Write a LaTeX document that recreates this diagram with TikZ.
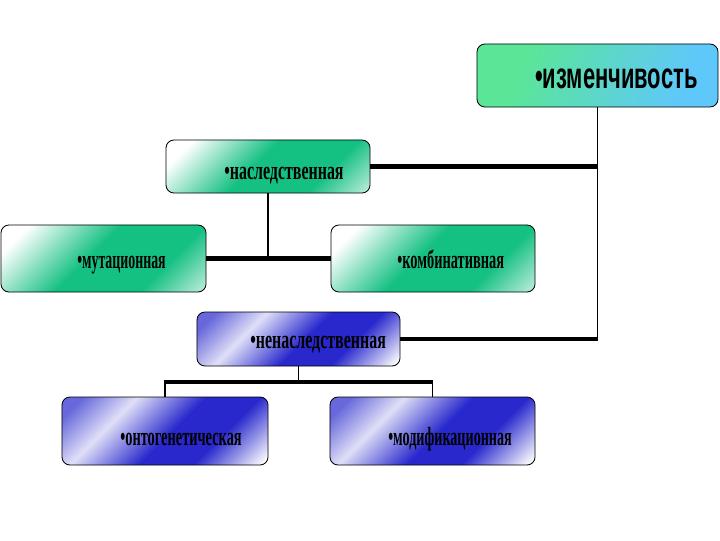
\documentclass[tikz,border=0pt]{standalone}
\usepackage{fontspec}
\setmainfont{Liberation Serif}
\newfontfamily\headfont{Liberation Sans}
\usepackage{graphicx}
\usetikzlibrary{calc}

\definecolor{grn}{RGB}{20,192,130}
\definecolor{blu}{RGB}{40,40,205}
\definecolor{tgrn}{RGB}{90,230,150}
\definecolor{tblu}{RGB}{95,200,250}

\pgfdeclarehorizontalshading{greenshade}{100bp}{color(0bp)=(white); color(22bp)=(white); color(46bp)=(grn); color(68bp)=(grn); color(88bp)=(grn!15!white); color(100bp)=(white)}
\pgfdeclarehorizontalshading{blueshade}{100bp}{color(0bp)=(blu!70!white); color(20bp)=(blu!70!white); color(34bp)=(blu!15!white); color(52bp)=(blu); color(66bp)=(blu); color(84bp)=(white); color(100bp)=(white)}
\pgfdeclarehorizontalshading{topshade}{100bp}{color(0bp)=(tgrn); color(30bp)=(tgrn); color(72bp)=(tblu); color(100bp)=(tblu)}

\newcommand{\headlbl}[1]{\scalebox{0.6}[1]{\fontsize{26}{28}\selectfont\headfont\bfseries\textbullet#1}}
\newcommand{\lbl}[2][0.61]{\scalebox{#1}[1]{\fontsize{18.6}{20}\selectfont\bfseries\textbullet#2}}

\begin{document}
\begin{tikzpicture}[x=0.025cm,y=-0.025cm]
\tikzstyle{box} = [draw=black,line width=0.6pt,rounded corners=0.2cm,inner sep=0pt]
\tikzstyle{grbox} = [box,shading=greenshade,shading angle=-45]
\tikzstyle{blbox} = [box,shading=blueshade,shading angle=-45]
\tikzstyle{txt} = [anchor=base west,inner sep=0pt]
\tikzstyle{thin} = [line width=1.3pt]
\tikzstyle{thk} = [line width=3pt]
\useasboundingbox (0,0) rectangle (720,540);

%%%%%% Izmenchivost
\node[box,shading=topshade,shading angle=-20,minimum width=6.025cm,minimum height=1.575cm] (izm) at (597.5,75.5) {};
\node[txt] (izm-t) at (535,88) {\headlbl{изменчивость}};

%%%%%% Nasledstvennaya
\node[grbox,minimum width=5.1cm,minimum height=1.325cm] (nasl) at (268,166.5) {};
\node[txt] (nasl-t) at (224,179) {\lbl{наследственная}};
%
\node[grbox,minimum width=5.125cm,minimum height=1.675cm] (mut) at (103.5,258.5) {};
\node[txt] (mut-t) at (77,268) {\lbl[0.53]{мутационная}};
%
\node[grbox,minimum width=5.1cm,minimum height=1.675cm] (komb) at (433,258.5) {};
\node[txt] (komb-t) at (397,268) {\lbl[0.55]{комбинативная}};

%%%%%% Nenasledstvennaya
\node[blbox,minimum width=5.075cm,minimum height=1.35cm] (nenasl) at (298.5,339) {};
\node[txt] (nenasl-t) at (250,348) {\lbl{ненаследственная}};
%
\node[blbox,minimum width=5.15cm,minimum height=1.7cm] (onto) at (165,431) {};
\node[txt] (onto-t) at (120,445) {\lbl[0.55]{онтогенетическая}};
%
\node[blbox,minimum width=5.125cm,minimum height=1.7cm] (modif) at (432.5,431) {};
\node[txt] (modif-t) at (388,445) {\lbl[0.54]{модификационная}};

%%%%%% Linhas
\draw[thin] (izm.south) -- (izm.south |- nenasl.east);
\draw[thk] (nasl.east) -- (nasl.east -| izm.south);
\draw[thk] (nenasl.east) -- (nenasl.east -| izm.south);
%
\draw[thin] (nasl.south) -- (nasl.south |- mut.east);
\draw[thk] (mut.east) -- (komb.west);
%
\coordinate (fork) at (298.5,382);
\draw[thin] (nenasl.south) -- (fork);
\draw[thin] (onto.north) -- (onto.north |- fork);
\draw[thin] (modif.north) -- (modif.north |- fork);
\draw[thk] ($(onto.north |- fork)+(-0.6,0)$) -- ($(modif.north |- fork)+(0.6,0)$);
\end{tikzpicture}
\end{document}
